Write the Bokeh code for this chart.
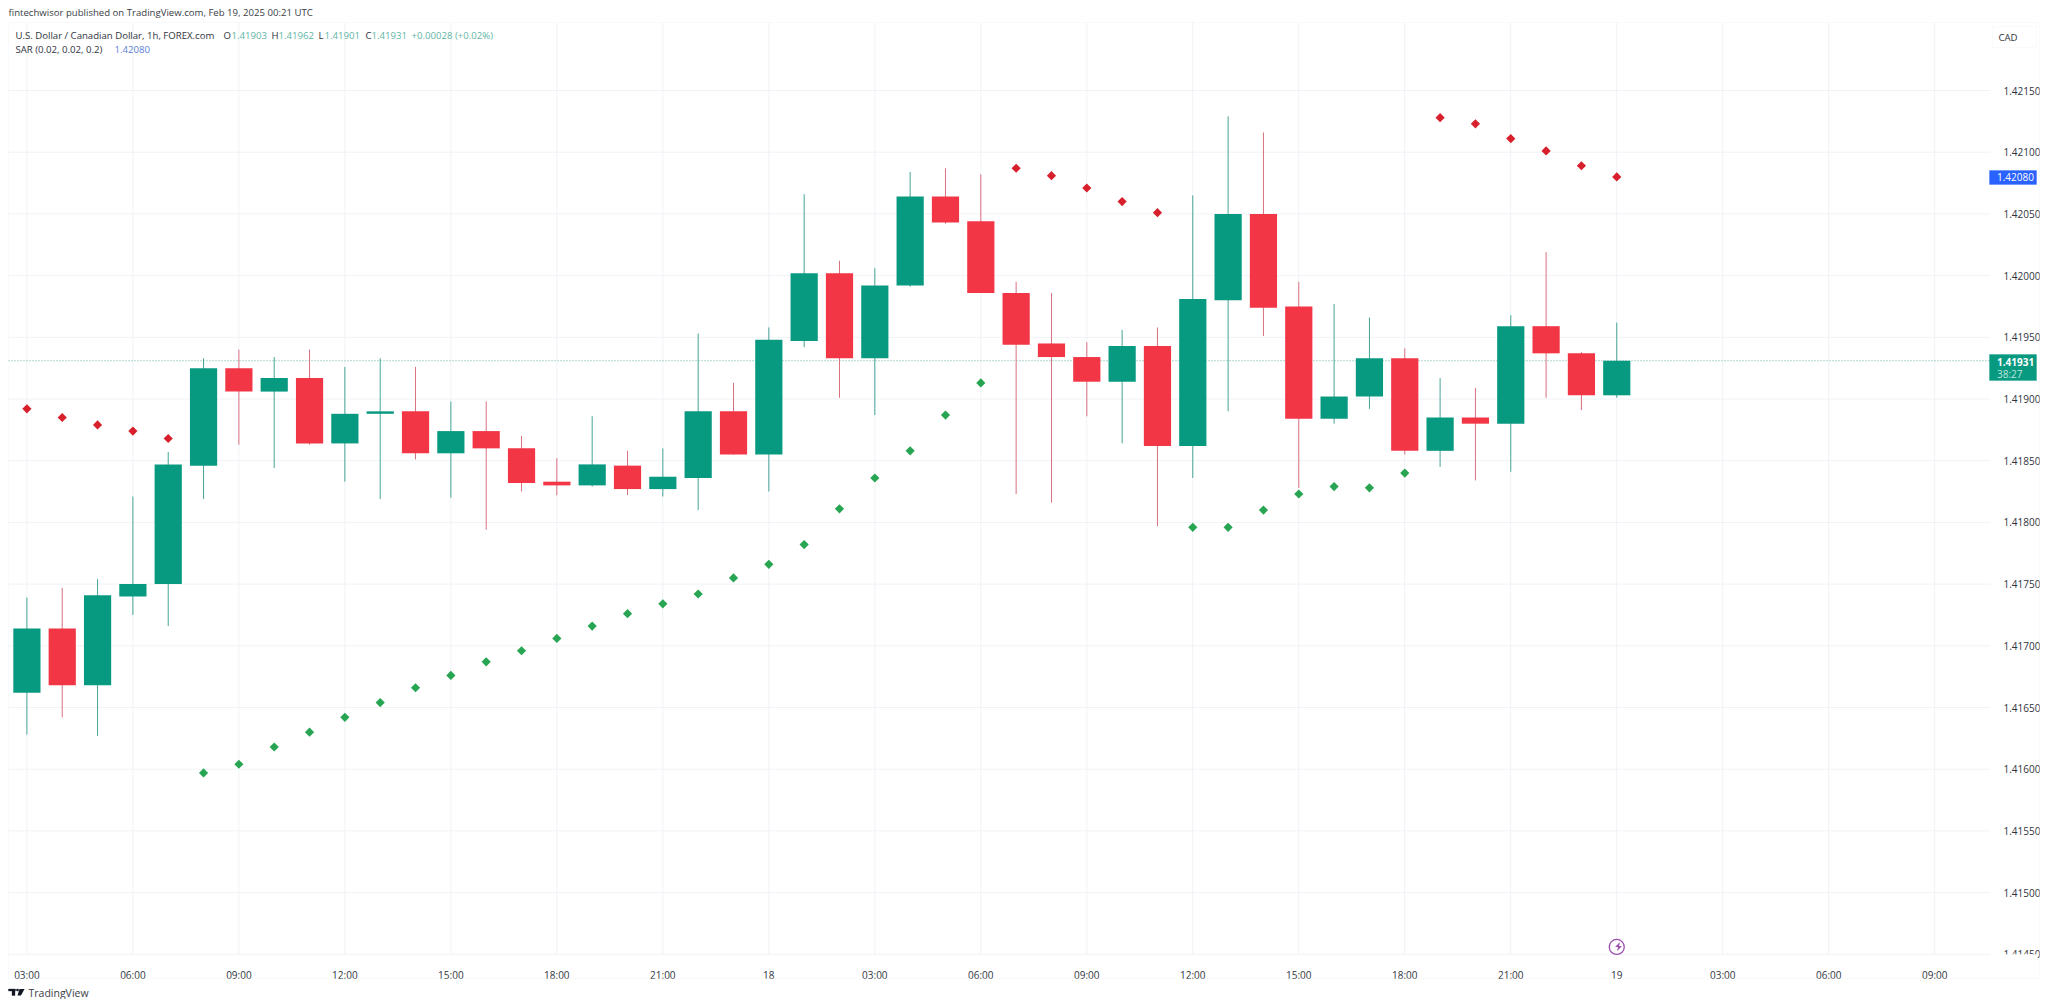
from bokeh.plotting import figure
from bokeh.models import (ColumnDataSource, Range1d, FixedTicker, Label, BoxAnnotation,
                          PolyAnnotation)
from bokeh.embed import file_html
from bokeh.resources import INLINE

opens = [1.41662,1.41714,1.41668,1.41740,1.41750,1.41846,1.41925,1.41906,1.41917,1.41864,1.41888,1.41890,
         1.41856,1.41874,1.41860,1.41833,1.41830,1.41846,1.41827,1.41836,1.41890,1.41855,1.41947,1.42002,
         1.41933,1.41992,1.42064,1.42044,1.41986,1.41945,1.41934,1.41914,1.41943,1.41862,1.41980,1.42050,
         1.41975,1.41884,1.41902,1.41933,1.41858,1.41885,1.41880,1.41959,1.41937,1.41903]
highs = [1.41739,1.41747,1.41754,1.41821,1.41857,1.41933,1.41940,1.41934,1.41940,1.41926,1.41933,1.41926,
         1.41898,1.41898,1.41870,1.41852,1.41886,1.41858,1.41860,1.41953,1.41913,1.41958,1.42066,1.42012,
         1.42006,1.42084,1.42087,1.42082,1.41995,1.41986,1.41946,1.41956,1.41958,1.42065,1.42129,1.42116,
         1.41995,1.41977,1.41966,1.41941,1.41917,1.41909,1.41968,1.42019,1.41938,1.41962]
lows = [1.41628,1.41642,1.41627,1.41725,1.41716,1.41819,1.41863,1.41844,1.41863,1.41833,1.41819,1.41851,
        1.41820,1.41794,1.41825,1.41822,1.41829,1.41822,1.41821,1.41810,1.41855,1.41825,1.41942,1.41901,
        1.41887,1.41991,1.42042,1.41986,1.41823,1.41816,1.41886,1.41864,1.41797,1.41836,1.41890,1.41951,
        1.41828,1.41880,1.41892,1.41855,1.41845,1.41834,1.41841,1.41901,1.41891,1.41901]
closes = [1.41714,1.41668,1.41741,1.41750,1.41847,1.41925,1.41906,1.41917,1.41864,1.41888,1.41890,1.41856,
          1.41874,1.41860,1.41832,1.41830,1.41847,1.41827,1.41837,1.41890,1.41855,1.41948,1.42002,1.41933,
          1.41992,1.42064,1.42043,1.41986,1.41944,1.41934,1.41914,1.41943,1.41862,1.41981,1.42050,1.41974,
          1.41884,1.41902,1.41933,1.41858,1.41885,1.41880,1.41959,1.41937,1.41903,1.41931]
sar_values = [1.41892,1.41885,1.41879,1.41874,1.41868,
              1.41597,1.41604,1.41618,1.41630,1.41642,1.41654,1.41666,1.41676,1.41687,1.41696,1.41706,1.41716,
              1.41726,1.41734,1.41742,1.41755,1.41766,1.41782,1.41811,1.41836,1.41858,1.41887,1.41913,
              1.42087,1.42081,1.42071,1.42060,1.42051,
              1.41796,1.41796,1.41810,1.41823,1.41829,1.41828,1.41840,
              1.42128,1.42123,1.42111,1.42101,1.42089,1.42080]
sar_short = [True]*5 + [False]*23 + [True]*5 + [False]*7 + [True]*6
time_ticks = [0,3,6,9,12,15,18,21,24,27,30,33,36,39,42,45,48,51,54]
time_labels = ["03:00","06:00","09:00","12:00","15:00","18:00","21:00","18","03:00","06:00","09:00","12:00",
               "15:00","18:00","21:00","19","03:00","06:00","09:00"]
price_ticks = [1.4145,1.4150,1.4155,1.4160,1.4165,1.4170,1.4175,1.4180,1.4185,1.4190,1.4195,1.4200,1.4205,1.4210,1.4215]
current_price = 1.41931

GREEN, RED = "#089981", "#f23645"
FONT = "Open Sans"
TXT = "#2f333d"

# canvas origin on the page and the price / bar scales
OX, OY, W, H = 0, 0, 2040, 999
def bar_at(px): return (px - 26.4) / 35.33
def price_at(py): return 1.4215 + (90 - py) / 123400
def fx(px): return px - OX
def fy(py): return OY + H - py

p = figure(width=W, height=H, output_backend="svg", toolbar_location=None,
           x_range=Range1d(bar_at(OX), bar_at(OX + W)), y_range=Range1d(price_at(OY + H), price_at(OY)),
           y_axis_location="right", min_border_left=0, min_border_right=0,
           min_border_top=0, min_border_bottom=0, outline_line_color=None,
           background_fill_color="white", border_fill_color="white")
p.grid.visible = False

pane_left, pane_right = bar_at(8), bar_at(1990)
pane_top, pane_bottom = price_at(22), price_at(954)
p.xaxis.fixed_location = pane_bottom
p.yaxis.fixed_location = pane_right

p.xaxis.ticker = FixedTicker(ticks=time_ticks)
p.xaxis.major_label_overrides = dict(zip(time_ticks, time_labels))
p.yaxis.ticker = FixedTicker(ticks=price_ticks)
p.yaxis.major_label_overrides = {t: f"{t:.5f}" for t in price_ticks}
for ax in (p.xaxis, p.yaxis):
    ax.axis_line_color = None
    ax.major_tick_line_color = None
    ax.minor_tick_line_color = None
    ax.major_label_text_font = FONT
    ax.major_label_text_font_size = "10px"
    ax.major_label_text_color = TXT
p.xaxis.major_label_standoff = 7
p.yaxis.major_label_standoff = 7

GRID = "#f0f2f6"
p.segment(time_ticks, [pane_bottom]*len(time_ticks), time_ticks, [pane_top]*len(time_ticks),
          line_color=GRID, line_width=1)
p.segment([pane_left]*len(price_ticks), price_ticks, [pane_right]*len(price_ticks), price_ticks,
          line_color=GRID, line_width=1)
p.segment([pane_left], [current_price], [pane_right], [current_price], line_color="#63b0a4",
          line_dash="1 2", line_width=1)

xs = list(range(len(opens)))
src = ColumnDataSource(dict(
    x=xs, o=opens, h=highs, l=lows, c=closes,
    top=[max(a, b) for a, b in zip(opens, closes)],
    bottom=[min(a, b) for a, b in zip(opens, closes)],
    color=[GREEN if c >= o else RED for o, c in zip(opens, closes)],
    wick=["#45a597" if c >= o else "#d9707f" for o, c in zip(opens, closes)],
))
p.segment("x", "l", "x", "h", source=src, line_color="wick", line_width=1)
p.vbar("x", 0.77, "bottom", "top", source=src, fill_color="color", line_color=None)

sx_red = [i for i, s in zip(xs, sar_short) if s]
sy_red = [v for v, s in zip(sar_values, sar_short) if s]
sx_grn = [i for i, s in zip(xs, sar_short) if not s]
sy_grn = [v for v, s in zip(sar_values, sar_short) if not s]
p.scatter(sx_red, sy_red, marker="square", angle=0.785, size=6.5, fill_color="#d81f2c", line_color=None)
p.scatter(sx_grn, sy_grn, marker="square", angle=0.785, size=6.5, fill_color="#27a552", line_color=None)

# lightning marker at the start of day 19
p.scatter([45], [1.41456], marker="circle", size=15, fill_color="white",
          line_color="#9c4fb0", line_width=1.3)
p.add_layout(PolyAnnotation(
    xs=[fx(v) for v in (1619.5, 1614.5, 1617.5, 1616.5, 1621.5, 1618.5)],
    ys=[fy(v) for v in (941.5, 946.5, 946.5, 950.5, 945.5, 945.5)],
    xs_units="screen", ys_units="screen", fill_color="#9c4fb0", fill_alpha=1, line_color=None))

def box(l, r, t, b, fill, line=None, alpha=1):
    p.add_layout(BoxAnnotation(left=fx(l), right=fx(r), top=fy(t), bottom=fy(b),
                               left_units="screen", right_units="screen", top_units="screen", bottom_units="screen",
                               fill_color=fill, fill_alpha=alpha,
                               line_color=line if line else fill, line_width=1))

def label(px, py, txt, color=TXT, size="9.6px", style="normal"):
    p.add_layout(Label(x=fx(px), y=fy(py), x_units="screen", y_units="screen", text=txt,
                       text_color=color, text_font=FONT, text_font_size=size,
                       text_font_style=style, text_baseline="middle", text_align="left"))

# outer chart frame
box(8, 2039, 22, 978, "white", "#eceef2", alpha=0)
# hide lower half of the bottom price label
box(1992, 2037, 954, 976, "white")

box(1992, 2036, 26, 47, "white", "#eceef2")
label(1998, 36.7, "CAD")
box(1989, 2036, 170, 184, "#2962ff")
label(1996.5, 176.8, "1.42080", "white", "10px")
box(1989, 2036, 354, 380, GREEN)
label(1996.5, 361, "1.41931", "white", "10px", "bold")
label(1996.5, 373, "38:27", "#bfe6df", "10px")

HDR = "#5fb5a6"
label(8, 12.3, "fintechwisor published on TradingView.com, Feb 19, 2025 00:21 UTC", "#3a3d46", "9.6px")
label(15, 35, "U.S. Dollar / Canadian Dollar, 1h, FOREX.com")
for px, t in ((223, "O"), (271, "H"), (318, "L"), (365, "C")):
    label(px, 35, t)
for px, t in ((231, "1.41903"), (278, "1.41962"), (324, "1.41901"), (371, "1.41931"),
              (411, "+0.00028 (+0.02%)")):
    label(px, 35, t, HDR)
label(15, 48.7, "SAR (0.02, 0.02, 0.2)")
label(114, 48.7, "1.42080", "#5b80d8")

# TradingView footer
label(28, 992.5, "TradingView", "#3a3d46", "10.5px")
LOGO = "#131722"
box(8, 15, 988.5, 990.5, LOGO)
box(11.5, 14.5, 990.5, 995, LOGO)
box(16, 18, 988.5, 990.5, LOGO)
p.add_layout(PolyAnnotation(xs=[fx(v) for v in (19, 24, 20.5, 17)], ys=[fy(v) for v in (988.5, 988.5, 995, 995)],
                            xs_units="screen", ys_units="screen", fill_color=LOGO, fill_alpha=1, line_color=None))

open("out.html", "w").write(file_html(p, INLINE))
